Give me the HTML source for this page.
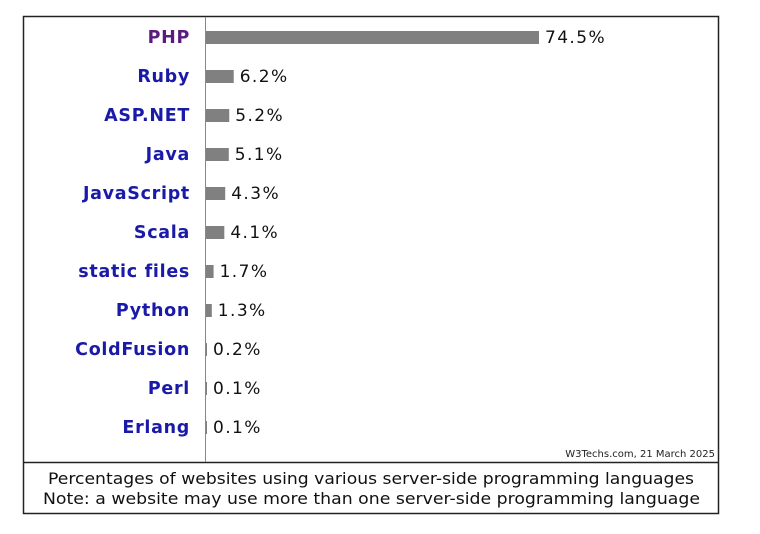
<!DOCTYPE html>
<html><head><meta charset="utf-8"><style>
body{margin:0;background:#fff;width:760px;height:530px;overflow:hidden;font-family:"DejaVu Sans","Liberation Sans",sans-serif}
</style></head><body>
<svg width="760" height="530">
<rect x="23.5" y="16.5" width="695" height="497" fill="#fff" stroke="#222" stroke-width="1.5"/>
<line x1="23" y1="462.5" x2="719" y2="462.5" stroke="#222" stroke-width="1.5"/>
<line x1="205.5" y1="17" x2="205.5" y2="462" stroke="#888" stroke-width="1"/>
<g id="bars"></g>
<text x="715" y="457" font-size="10" text-anchor="end" fill="#222">W3Techs.com, 21 March 2025</text>
<text x="48" y="484" font-size="16" textLength="646" lengthAdjust="spacingAndGlyphs" fill="#111">Percentages of websites using various server-side programming languages</text>
<text x="43" y="504" font-size="16" textLength="657" lengthAdjust="spacingAndGlyphs" fill="#111">Note: a website may use more than one server-side programming language</text>
</svg>
<script>
const categories=["PHP","Ruby","ASP.NET","Java","JavaScript","Scala","static files","Python","ColdFusion","Perl","Erlang"];
const values=[74.5,6.2,5.2,5.1,4.3,4.1,1.7,1.3,0.2,0.1,0.1];
const valueLabels=["74.5%","6.2%","5.2%","5.1%","4.3%","4.1%","1.7%","1.3%","0.2%","0.1%","0.1%"];
const NS="http://www.w3.org/2000/svg";
const g=document.getElementById('bars');
const x0=206, pxPer=333/74.5;
function xScale(v){return x0+v*pxPer;}
function yScale(i){return 37+i*39;}
categories.forEach((c,i)=>{
  const y=yScale(i);
  const w=Math.max(1,xScale(values[i])-x0);
  const r=document.createElementNS(NS,'rect');
  r.setAttribute('x',x0);r.setAttribute('y',y-6);r.setAttribute('width',w);r.setAttribute('height',13);r.setAttribute('fill','#808080');
  
  
  g.appendChild(r);
  const l=document.createElementNS(NS,'text');
  l.setAttribute('x',190);l.setAttribute('y',y+6);l.setAttribute('text-anchor','end');
  l.setAttribute('font-size','17.5');l.setAttribute('font-weight','bold');l.setAttribute('letter-spacing','0.7');
  l.setAttribute('fill',i===0?'#5a1a7f':'#1a1aa8');
  l.textContent=c;
  
  
  g.appendChild(l);
  const v=document.createElementNS(NS,'text');
  v.setAttribute('x',x0+w+6);v.setAttribute('y',y+6);
  v.setAttribute('font-size','17');v.setAttribute('letter-spacing','1.4');v.setAttribute('fill','#111');
  v.textContent=valueLabels[i];
  
  
  g.appendChild(v);
});
</script>
</body></html>
